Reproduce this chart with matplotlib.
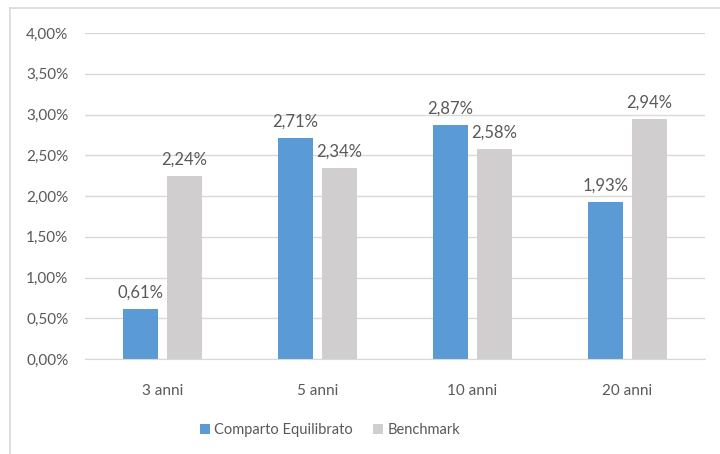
import numpy as np
import matplotlib.pyplot as plt
from matplotlib.ticker import FuncFormatter
from matplotlib.lines import Line2D

# dati
periodi = ["3 anni", "5 anni", "10 anni", "20 anni"]
comparto = [0.61, 2.71, 2.87, 1.93]
benchmark = [2.24, 2.34, 2.58, 2.94]

blu = "#5B9BD5"
grigio = "#D0CECE"
testo = "#595959"

plt.rcParams['font.family'] = ['Lato', 'DejaVu Sans']

fig = plt.figure(figsize=(7.2, 4.54), dpi=100)
ax = fig.add_axes([85/720, 1 - 359/454, 620/720, 326/454])

x = np.arange(len(periodi))
w = 0.226
b1 = ax.bar(x - 0.143, comparto, w, color=blu, label="Comparto Equilibrato")
b2 = ax.bar(x + 0.143, benchmark, w, color=grigio, label="Benchmark")

def pct(v):
    return f"{v:.2f}%".replace(".", ",")

for bars in (b1, b2):
    for r in bars:
        ax.annotate(pct(r.get_height()), (r.get_x() + r.get_width()/2, r.get_height()),
                    xytext=(0, 6), textcoords="offset points", ha="center", va="bottom",
                    fontsize=12, color=testo)

ax.set_xlim(-0.5, 3.5)
ax.set_ylim(0, 4.0)
ax.set_yticks(np.arange(0, 4.01, 0.5))
ax.yaxis.set_major_formatter(FuncFormatter(lambda v, p: pct(v)))
ax.set_xticks(x)
ax.set_xticklabels(periodi)
ax.tick_params(axis="both", length=0, labelsize=11, labelcolor=testo)
ax.tick_params(axis="y", pad=12)
ax.tick_params(axis="x", pad=18)

ax.grid(axis="y", color="#D9D9D9", linewidth=1)
ax.set_axisbelow(True)
for s in ["top", "right", "left"]:
    ax.spines[s].set_visible(False)
ax.spines["bottom"].set_color("#D9D9D9")

# bordo esterno del grafico
fig.add_artist(Line2D([10/720, 10/720], [0, 1 - 8/454], color="#D9D9D9", lw=1.2))
fig.add_artist(Line2D([10/720, 1], [1 - 8/454, 1 - 8/454], color="#D9D9D9", lw=1.2))

leg = fig.legend(loc="center", bbox_to_anchor=(330/720, 1 - 430/454), ncol=2, frameon=False,
                 fontsize=10.5, handlelength=0.7, handleheight=0.7, handletextpad=0.3,
                 columnspacing=1.4)
for t in leg.get_texts():
    t.set_color(testo)

fig.savefig("out.png", dpi=100)
